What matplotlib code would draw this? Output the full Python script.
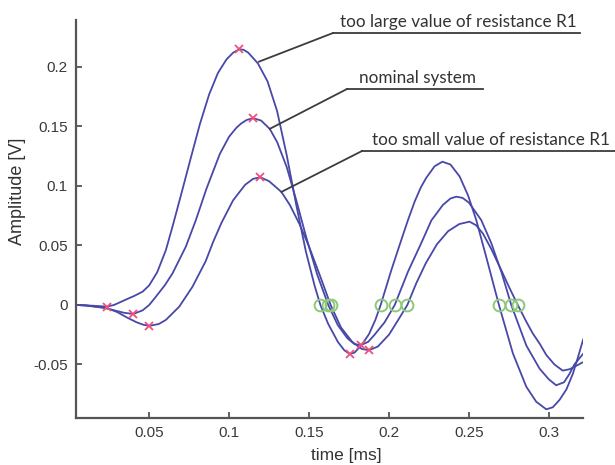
import matplotlib
matplotlib.use("Agg")
import matplotlib.pyplot as plt

# --- data (time in ms, amplitude in V) ---
t_large = [0.0042, 0.01, 0.0165, 0.0234, 0.028, 0.0354, 0.0405, 0.0459, 0.05, 0.055,
           0.0604, 0.0646, 0.07, 0.0757, 0.0817, 0.0875, 0.093, 0.0984, 0.1025, 0.1063,
           0.109, 0.112, 0.118, 0.124, 0.130, 0.136, 0.142, 0.148, 0.1535, 0.1571,
           0.162, 0.168, 0.172, 0.1754, 0.1785, 0.1827, 0.1875, 0.1915, 0.1948, 0.2015,
           0.2077, 0.2119, 0.2161, 0.22, 0.2234, 0.2285, 0.2334, 0.2385, 0.2442, 0.2495,
           0.2546, 0.2615, 0.2688, 0.2775, 0.2859, 0.2921, 0.2984, 0.3025, 0.3067, 0.311,
           0.315, 0.318, 0.3215]
y_large = [0.0, -0.0003, -0.0008, -0.0014, 0.0, 0.0045, 0.0075, 0.0112, 0.0165, 0.0275,
           0.046, 0.066, 0.093, 0.122, 0.152, 0.177, 0.195, 0.2065, 0.2120, 0.2149,
           0.2145, 0.2120, 0.203, 0.188, 0.163, 0.126, 0.084, 0.045, 0.016, 0.0,
           -0.016, -0.031, -0.038, -0.0412, -0.040, -0.034, -0.0245, -0.0125, 0.0, 0.0294,
           0.0546, 0.0714, 0.087, 0.099, 0.107, 0.1165, 0.1204, 0.118, 0.108, 0.092,
           0.0714, 0.037, 0.0, -0.0406, -0.0687, -0.0813, -0.0877, -0.086, -0.0798, -0.071,
           -0.0580, -0.045, -0.029]

t_nominal = [0.0042, 0.01, 0.016, 0.022, 0.028, 0.034, 0.04, 0.0459, 0.05, 0.0542,
             0.06, 0.0646, 0.0729, 0.0792, 0.0859, 0.0942, 0.1, 0.1046, 0.1075, 0.111,
             0.115, 0.120, 0.1254, 0.130, 0.136, 0.142, 0.148, 0.155, 0.162, 0.168,
             0.174, 0.1785, 0.1827, 0.187, 0.191, 0.1973, 0.2036, 0.2119, 0.2202, 0.2265,
             0.2337, 0.2385, 0.2421, 0.246, 0.25, 0.2577, 0.264, 0.2705, 0.2765, 0.2859,
             0.2942, 0.3, 0.3046, 0.3095, 0.3129, 0.316, 0.3215]
y_nominal = [0.0, -0.0004, -0.0012, -0.0025, -0.0045, -0.0065, -0.0076, -0.0045, 0.0, 0.007,
             0.017, 0.0266, 0.049, 0.0714, 0.098, 0.127, 0.1415, 0.149, 0.1525, 0.1555,
             0.157, 0.155, 0.148, 0.137, 0.116, 0.088, 0.058, 0.026, 0.0, -0.017,
             -0.028, -0.033, -0.0336, -0.031, -0.025, -0.0145, 0.0, 0.028, 0.052, 0.071,
             0.084, 0.0895, 0.091, 0.090, 0.086, 0.0714, 0.052, 0.027, 0.0, -0.034,
             -0.0535, -0.0625, -0.0675, -0.065, -0.058, -0.050, -0.041]

t_small = [0.0042, 0.01, 0.016, 0.0234, 0.03, 0.036, 0.042, 0.046, 0.05, 0.056,
           0.0604, 0.0688, 0.0771, 0.0854, 0.09, 0.0952, 0.1025, 0.11, 0.115, 0.1196,
           0.125, 0.1327, 0.138, 0.144, 0.150, 0.157, 0.1635, 0.170, 0.177, 0.183,
           0.1875, 0.193, 0.200, 0.2065, 0.2115, 0.217, 0.223, 0.23, 0.237, 0.244,
           0.2504, 0.2545, 0.2588, 0.264, 0.27, 0.2755, 0.2806, 0.2859, 0.29, 0.2945,
           0.2984, 0.3035, 0.3087, 0.313, 0.316, 0.3215]
y_small = [0.0, -0.0004, -0.0015, -0.0025, -0.006, -0.0105, -0.0145, -0.0165, -0.0176, -0.016,
           -0.0126, -0.0014, 0.0154, 0.037, 0.053, 0.069, 0.088, 0.101, 0.106, 0.1073,
           0.104, 0.095, 0.084, 0.068, 0.049, 0.024, 0.0, -0.019, -0.031, -0.037,
           -0.038, -0.035, -0.025, -0.011, 0.0, 0.018, 0.035, 0.051, 0.062, 0.068,
           0.070, 0.067, 0.060, 0.047, 0.030, 0.014, 0.0, -0.014, -0.024, -0.033,
           -0.042, -0.050, -0.0552, -0.054, -0.052, -0.048]

# extrema (red x) and zero crossings (green o)
ext_t = [0.0234, 0.1063, 0.1754, 0.04, 0.115, 0.1827, 0.05, 0.1196, 0.1875]
ext_y = [-0.0014, 0.2149, -0.0412, -0.0076, 0.157, -0.0336, -0.0176, 0.1073, -0.038]
zero_t = [0.1571, 0.1948, 0.2688, 0.162, 0.2036, 0.2765, 0.1635, 0.2115, 0.2806]

labels = ["too large value of resistance R1", "nominal system",
          "too small value of resistance R1"]
label_pts = [(0.1187, 0.2045), (0.1254, 0.148), (0.1327, 0.095)]

xticks = [0.05, 0.1, 0.15, 0.2, 0.25, 0.3]
yticks = [-0.05, 0, 0.05, 0.1, 0.15, 0.2]

fig = plt.figure(figsize=(6.15, 4.65), dpi=100)
ax = fig.add_axes([0.1236, 0.1011, 0.8244, 0.8559])

line_c = "#4848a8"
for t, y in [(t_large, y_large), (t_nominal, y_nominal), (t_small, y_small)]:
    ax.plot(t, y, color=line_c, lw=1.3, solid_joinstyle="round")

ax.plot(ext_t, ext_y, "x", color="#f0507a", ms=5.5, mew=1.3)
ax.plot(zero_t, [0] * len(zero_t), "o", mfc="none", mec="#8cc87a", ms=8.5, mew=1.4)

ax.set_xlim(0.0042, 0.3214)
ax.set_ylim(-0.095, 0.2395)
ax.set_xticks(xticks)
ax.set_xticklabels([f"{v:g}" for v in xticks])
ax.set_yticks(yticks)
ax.set_yticklabels([f"{v:g}" for v in yticks])

for s in ["top", "right"]:
    ax.spines[s].set_visible(False)
for s in ["left", "bottom"]:
    ax.spines[s].set_color("#555555")
    ax.spines[s].set_linewidth(1.6)
ax.tick_params(direction="in", length=4, width=1.3, color="#555555",
               labelsize=11, labelcolor="#3a3a3a", pad=6)
for lab in ax.get_xticklabels() + ax.get_yticklabels():
    lab.set_family(["Liberation Sans", "DejaVu Sans"])

ax.set_xlabel("time [ms]", fontsize=12.5, color="#333333",
              family=["Liberation Sans", "DejaVu Sans"])
ax.set_ylabel("Amplitude [V]", fontsize=13, color="#333333",
              family=["Liberation Sans", "DejaVu Sans"])
ax.xaxis.set_label_coords(0.534, -0.075)
ax.yaxis.set_label_coords(-0.098, 0.57)

# labels with underline and leader line (figure pixels -> fraction)
W, H = 615, 465
shelves = [(333, 580, 33), (347, 483, 89), (362, 615, 151)]
for text, (x0, x1, yy), pt in zip(labels, shelves, label_pts):
    px, py = ax.transData.transform(pt)
    fig.add_artist(plt.Line2D([px / W, x0 / W], [py / H, 1 - yy / H],
                              color="#3c3c3c", lw=1.3))
    fig.add_artist(plt.Line2D([x0 / W, x1 / W], [1 - yy / H, 1 - yy / H],
                              color="#3c3c3c", lw=1.3))
    fig.text((x0 + x1) / 2 / W + 2 / W, 1 - (yy - 3) / H, text, ha="center", va="bottom",
             fontsize=12.3, color="#333333", family=["Lato", "DejaVu Sans"])

fig.savefig("out.png", dpi=100)
